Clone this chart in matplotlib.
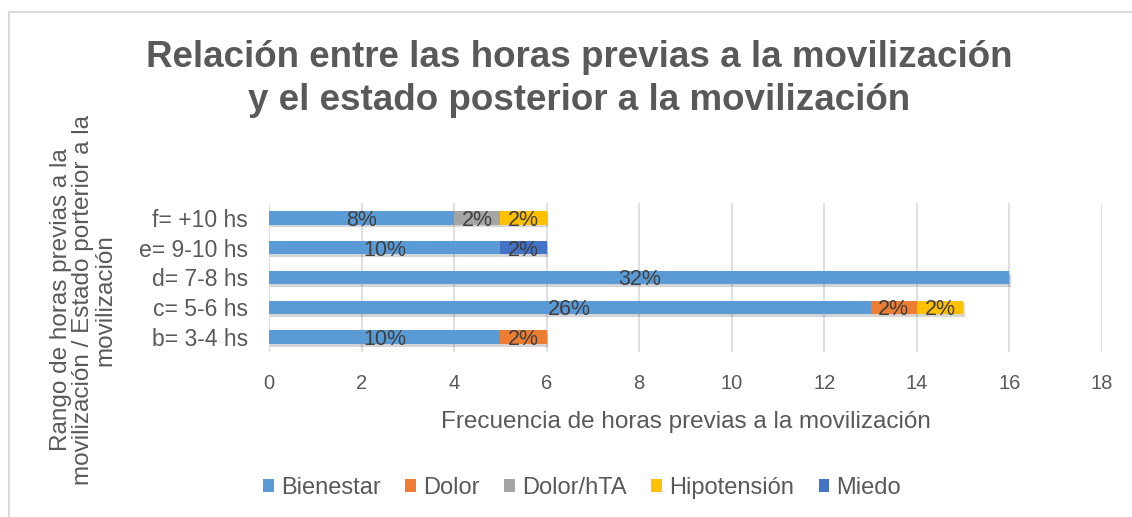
import numpy as np
import matplotlib.pyplot as plt
import matplotlib.patheffects as pe
from matplotlib.lines import Line2D
from matplotlib.patches import Patch

plt.rcParams['font.family'] = ['Liberation Sans', 'DejaVu Sans']

# --- datos ---
categorias = ['b= 3-4 hs', 'c= 5-6 hs', 'd= 7-8 hs', 'e= 9-10 hs', 'f= +10 hs']
series = ['Bienestar', 'Dolor', 'Dolor/hTA', 'Hipotensión', 'Miedo']
valores = {
    'Bienestar':   [5, 13, 16, 5, 4],
    'Dolor':       [1, 1, 0, 0, 0],
    'Dolor/hTA':   [0, 0, 0, 0, 1],
    'Hipotensión': [0, 1, 0, 0, 1],
    'Miedo':       [0, 0, 0, 1, 0],
}
etiquetas = {
    'Bienestar':   ['10%', '26%', '32%', '10%', '8%'],
    'Dolor':       ['2%', '2%', '', '', ''],
    'Dolor/hTA':   ['', '', '', '', '2%'],
    'Hipotensión': ['', '2%', '', '', '2%'],
    'Miedo':       ['', '', '', '2%', ''],
}
colores = ['#5B9BD5', '#ED7D31', '#A5A5A5', '#FFC000', '#4472C4']
ticks_x = [0, 2, 4, 6, 8, 10, 12, 14, 16, 18]

gris = '#595959'
W, H = 1132, 517

fig = plt.figure(figsize=(W / 100, H / 100), dpi=100)
ax = fig.add_axes([269 / W, 1 - 352 / H, (1102 - 269) / W, (352 - 203) / H])

y = np.arange(len(categorias))
izq = np.zeros(len(categorias))
sombra = [pe.SimplePatchShadow(offset=(1, -2), alpha=0.2), pe.Normal()]
for nombre, color in zip(series, colores):
    v = np.array(valores[nombre], dtype=float)
    barras = ax.barh(y, v, left=izq, height=0.45, color=color, zorder=3)
    for b in barras:
        b.set_path_effects(sombra)
    for i, txt in enumerate(etiquetas[nombre]):
        if v[i] > 0 and txt:
            ax.text(izq[i] + v[i] / 2, y[i] - 0.08, txt, ha='center', va='center',
                    fontsize=15.5, color='#404040', zorder=4)
    izq += v

ax.set_xlim(0, 18)
ax.set_ylim(-0.5, len(categorias) - 0.5)
ax.set_xticks(ticks_x)
ax.set_yticks(y)
ax.set_yticklabels(categorias, fontsize=16.5, color=gris)
ax.tick_params(axis='x', labelsize=14.5, colors=gris, length=0, pad=16)
ax.tick_params(axis='y', length=0, pad=15)
ax.grid(axis='x', color='#D9D9D9', linewidth=1.2, zorder=0)
for s in ax.spines.values():
    s.set_visible(False)

# eje x
fig.text(685.5 / W, 1 - 428 / H, 'Frecuencia de horas previas a la movilización',
         ha='center', va='baseline', fontsize=17.5, color=gris)

# título
fig.text(579 / W, 1 - 67 / H, 'Relación entre las horas previas a la movilización',
         ha='center', va='baseline', fontsize=26.5, fontweight='bold', color=gris)
fig.text(579 / W, 1 - 110 / H, 'y el estado posterior a la movilización',
         ha='center', va='baseline', fontsize=26.5, fontweight='bold', color=gris)

# eje y
fig.text(83 / W, 1 - 300 / H,
         'Rango de horas previas a la\nmovilización / Estado porterior a la\nmovilización',
         rotation=90, ha='center', va='center', fontsize=17.5, color=gris,
         linespacing=1.02)

# leyenda
handles = [Patch(facecolor=c, label=n) for n, c in zip(series, colores)]
fig.legend(handles=handles, loc='center', bbox_to_anchor=(582 / W, 1 - 488 / H), ncol=5,
           frameon=False, fontsize=17, handlelength=0.45, handleheight=0.45,
           handletextpad=0.3, columnspacing=1.05, labelcolor=gris)

# marco del gráfico
fig.add_artist(Line2D([9 / W, 9 / W], [0, 1 - 12 / H], color='#D9D9D9', lw=1.5))
fig.add_artist(Line2D([9 / W, 1], [1 - 12 / H, 1 - 12 / H], color='#D9D9D9', lw=1.5))

fig.savefig('out.png', dpi=100)
